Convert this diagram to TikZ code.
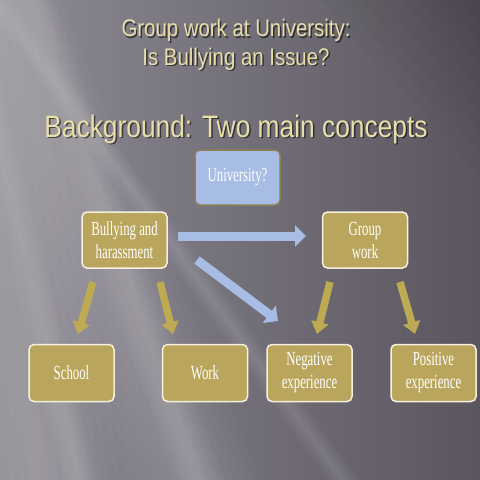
\documentclass[tikz,border=0pt]{standalone}
\usepackage{fontspec}
\newfontfamily\titlefont{Liberation Sans}[FakeStretch=0.85]
\newfontfamily\boxfont{Liberation Serif}[FakeStretch=0.64]
\usetikzlibrary{arrows.meta}
\definecolor{bgL}{HTML}{8E8B94}
\definecolor{bgR}{HTML}{5A555F}
\definecolor{gold}{HTML}{B9A65C}
\definecolor{goldarrow}{HTML}{BDAA52}
\definecolor{cream}{HTML}{F6F1DE}
\definecolor{bluefill}{HTML}{A8BDE5}
\definecolor{olive}{HTML}{8C8055}
\definecolor{titletext}{HTML}{E8DEAA}
\tikzset{
  gbox/.style={rounded corners=5pt, fill=gold, draw=cream, line width=1.5pt,
    text=white, align=center, minimum width=85pt, minimum height=57pt,
    inner sep=2pt, font=\boxfont\fontsize{20}{23}\selectfont},
  ubox/.style={gbox, fill=bluefill, draw=olive, minimum height=55pt},
  bluearrow/.style={draw=bluefill, line width=9pt,
    -{Triangle[length=11pt,width=21pt,fill=bluefill]}},
  goldarr/.style={draw=goldarrow, line width=7.5pt,
    -{Triangle[length=12pt,width=17pt,fill=goldarrow]}},
  titletxt/.style={text=titletext, anchor=base, inner sep=0pt},
  shadowtxt/.style={text=black, opacity=0.55, anchor=base, inner sep=0pt}
}
% soft streak: top x, top y, bottom x, bottom y, half width
\newcommand\softstreak[5]{%
  \foreach \k in {1,...,8}{
    \fill[white, opacity=0.018]
      (#1-#5*\k/8,#2) -- (#1+#5*\k/8,#2) -- (#3+#5*\k/8,#4) -- (#3-#5*\k/8,#4) -- cycle;
  }}
\begin{document}
\begin{tikzpicture}[x=1pt,y=-1pt]
\useasboundingbox (0,0) rectangle (480,480);
\shade[left color=bgL, right color=bgR] (0,0) rectangle (480,480);
% soft light streaks
\softstreak{-10}{0}{190}{480}{70}
\softstreak{30}{0}{200}{480}{25}
\softstreak{-36}{0}{80}{480}{18}
\softstreak{-4}{0}{343}{480}{16}
\softstreak{-30}{0}{40}{480}{80}
% darker top right corner
\foreach \k in {1,...,8}{
  \fill[black, opacity=0.018] (480-20*\k,0) -- (480,0) -- (480,22*\k) -- cycle;
}
% titles
\foreach \dx/\st in {1.5/shadowtxt, 0/titletxt}{
  \node[\st, font=\titlefont\fontsize{24}{28}\selectfont] (t1\dx) at (236+\dx,36.5+\dx) {Group work at University:};
  \node[\st, font=\titlefont\fontsize{24}{28}\selectfont] (t2\dx) at (236+\dx,65+\dx) {Is Bullying an Issue?};
  \node[\st, font=\titlefont\fontsize{31}{36}\selectfont] (t3\dx) at (236+\dx,137+\dx) {Background: Two main concepts};
}
% boxes
\node[ubox] (univ) at (237.5,177.5) {University?};
\node[gbox, minimum height=56pt] (bully) at (124.5,240) {Bullying and\\harassment};
\node[gbox, minimum height=56pt] (group) at (365,240) {Group\\work};
\node[gbox] (school) at (71.5,373) {School};
\node[gbox] (work) at (205,373) {Work};
\node[gbox] (neg) at (309.5,373) {Negative\\experience};
\node[gbox] (pos) at (433.5,373) {Positive\\experience};
% arrow end points
\coordinate (b1s) at (178,236); \coordinate (b1e) at (306,236);
\coordinate (b2s) at (197,260); \coordinate (b2e) at (278,321);
\coordinate (g1s) at (93,282);  \coordinate (g1e) at (78,334);
\coordinate (g2s) at (160,282); \coordinate (g2e) at (173,334);
\coordinate (g3s) at (330,282); \coordinate (g3e) at (317,334);
\coordinate (g4s) at (400,282); \coordinate (g4e) at (415,334);
\draw[bluearrow] (b1s) -- (b1e);
\draw[bluearrow] (b2s) -- (b2e);
\draw[goldarr] (g1s) -- (g1e);
\draw[goldarr] (g2s) -- (g2e);
\draw[goldarr] (g3s) -- (g3e);
\draw[goldarr] (g4s) -- (g4e);
\end{tikzpicture}
\end{document}
